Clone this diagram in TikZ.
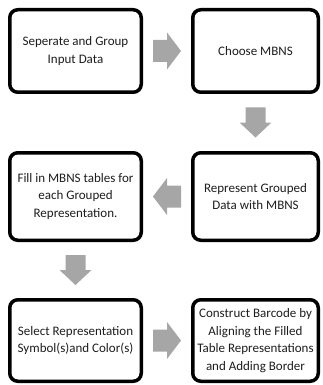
\documentclass[tikz,border=0pt]{standalone}
\usepackage{fontspec}
\setmainfont{Carlito}
\usetikzlibrary{calc}
\definecolor{pfeilgrau}{RGB}{166,166,166}
\definecolor{textgrau}{RGB}{30,30,30}

\begin{document}
\begin{tikzpicture}[x=1pt, y=-1pt,
    schritt/.style={draw=black, line width=3.5pt, rounded corners=8pt, fill=white,
        text=textgrau, align=center, inner sep=0pt,
        font=\fontsize{13}{17.5}\selectfont},
    links/.style={schritt, minimum width=131.5pt},
    rechts/.style={schritt, minimum width=125.5pt},
    pfeilrechts/.pic={\fill[pfeilgrau] (-14,-11) -- (0,-11) -- (0,-18.5) -- (14,0)
        -- (0,18.5) -- (0,11) -- (-14,11) -- cycle;},
    pfeilrunter/.pic={\fill[pfeilgrau] (-10,-15) -- (10,-15) -- (10,0) -- (16,0)
        -- (0,15) -- (-16,0) -- (-10,0) -- cycle;}]

    \useasboundingbox (0,0) rectangle (322,385);

    % Kaesten
    \node[links, minimum height=82.5pt] (trennen) at (75.5,51) {Seperate and Group\\Input Data};
    \node[rechts, minimum height=82.5pt] (waehlen) at (255.5,51) {Choose MBNS};
    \node[rechts, minimum height=87.5pt] (darstellen) at (255.5,196.5) {Represent Grouped\\Data with MBNS};
    \node[links, minimum height=87.5pt] (fuellen) at (75.5,196.5) {Fill in MBNS tables for\\each Grouped\\Representation.};
    \node[links, minimum height=81.5pt] (symbol) at (75.5,340.5) {Select Representation\\Symbol(s)and Color(s)};
    \node[rechts, minimum height=81.5pt] (barcode) at (255.5,340.5) {Construct Barcode by\\Aligning the Filled\\Table Representations\\and Adding Border};

    % Pfeile
    \pic at ($(trennen.east)!0.5!(waehlen.west)$) {pfeilrechts};
    \pic at ($(waehlen.south)!0.5!(darstellen.north)$) {pfeilrunter};
    \pic[xscale=-1] at ($(darstellen.west)!0.5!(fuellen.east)$) {pfeilrechts};
    \pic at ($(fuellen.south)!0.5!(symbol.north)$) {pfeilrunter};
    \pic at ($(symbol.east)!0.5!(barcode.west)$) {pfeilrechts};

\end{tikzpicture}
\end{document}
